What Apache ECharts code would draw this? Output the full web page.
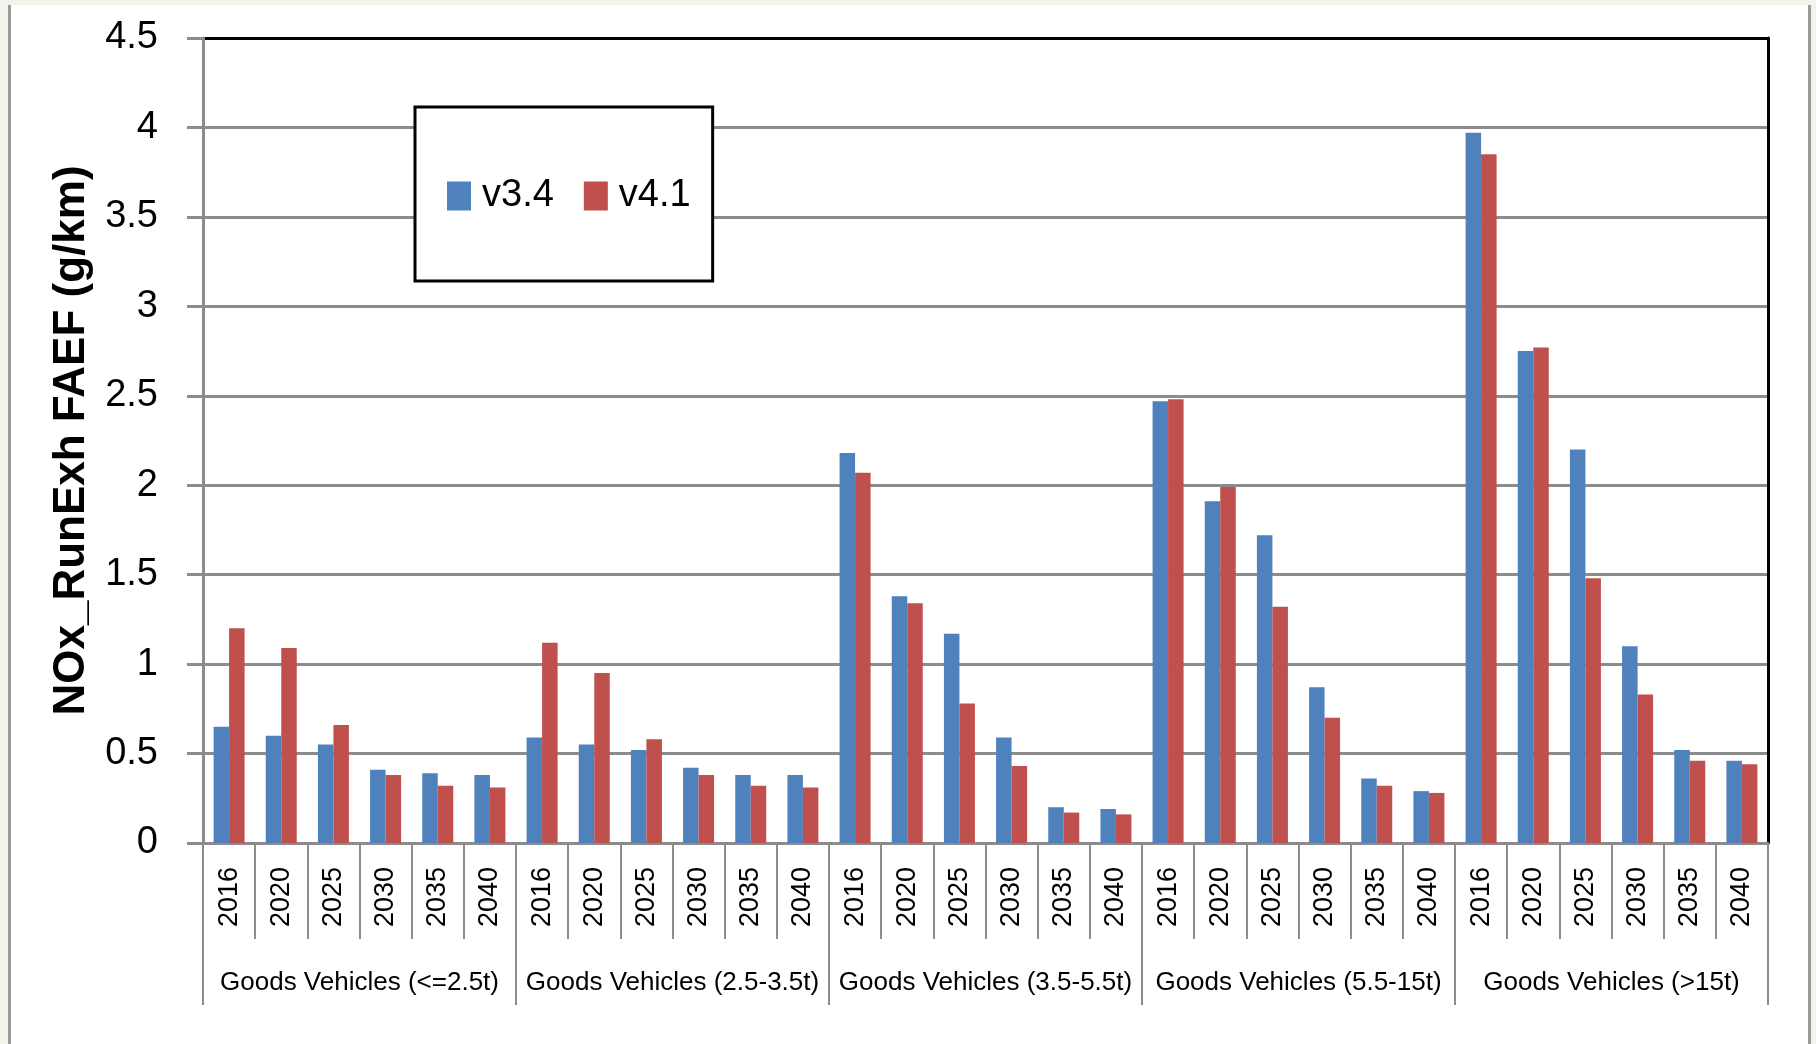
<!DOCTYPE html>
<html>
<head>
<meta charset="utf-8">
<script src="https://cdn.jsdelivr.net/npm/echarts@6/dist/echarts.min.js"></script>
<style>
html,body{margin:0;padding:0;background:#f3f2ec;}
#chart{width:1816px;height:1044px;}
</style>
</head>
<body>
<div id="chart"></div>
<script>
const years = ['2016','2020','2025','2030','2035','2040'];
const groups = ['Goods Vehicles (<=2.5t)','Goods Vehicles (2.5-3.5t)','Goods Vehicles (3.5-5.5t)','Goods Vehicles (5.5-15t)','Goods Vehicles (>15t)'];
const seriesNames = ['v3.4','v4.1'];
const v34 = [0.65,0.60,0.55,0.41,0.39,0.38, 0.59,0.55,0.52,0.42,0.38,0.38, 2.18,1.38,1.17,0.59,0.20,0.19, 2.47,1.91,1.72,0.87,0.36,0.29, 3.97,2.75,2.20,1.10,0.52,0.46];
const v41 = [1.20,1.09,0.66,0.38,0.32,0.31, 1.12,0.95,0.58,0.38,0.32,0.31, 2.07,1.34,0.78,0.43,0.17,0.16, 2.48,1.99,1.32,0.70,0.32,0.28, 3.85,2.77,1.48,0.83,0.46,0.44];
const yTicks = {min:0, max:4.5, interval:0.5};

const categories = [];
groups.forEach(() => years.forEach(y => categories.push(y)));

const gray = '#8c8c8c';
const splitColors = [];
for (let i = 0; i < 9; i++) splitColors.push(gray);
splitColors.push('#000');

const font = "'Liberation Sans', Arial, sans-serif";
const chart = echarts.init(document.getElementById('chart'));
chart.setOption({
  backgroundColor: '#f3f2ec',
  animation: false,
  textStyle: {fontFamily: font, color: '#000'},
  graphic: [
    {type:'rect', z:-10, shape:{x:11, y:5, width:1797, height:1039}, style:{fill:'#fff'}},
    {type:'rect', z:-9, shape:{x:8, y:5, width:3, height:1039}, style:{fill:'#9a9a9a'}},
    {type:'rect', z:-9, shape:{x:1808, y:5, width:3, height:1039}, style:{fill:'#9a9a9a'}}
  ],
  grid: {left:203, right:48, top:38, bottom:201, containLabel:false},
  legend: {
    data: seriesNames,
    left: 415, top: 107,
    orient: 'horizontal',
    icon: 'rect',
    itemWidth: 24, itemHeight: 29, itemGap: 30,
    padding: [70, 22, 66, 32],
    borderColor: '#000', borderWidth: 3,
    backgroundColor: '#fff',
    textStyle: {fontSize: 38, fontFamily: font, color:'#000', padding:[0,0,0,6]}
  },
  xAxis: [
    {
      type: 'category', data: categories, position: 'bottom',
      axisLine: {show:true, lineStyle:{color:gray, width:3}},
      axisTick: {show:true, interval:0, length:96, lineStyle:{color:gray, width:2}},
      axisLabel: {interval:0, rotate:90, margin:24, fontSize:27, color:'#000', fontFamily: font},
      splitLine: {show:false}
    },
    {
      type: 'category', data: groups, position: 'bottom',
      axisLine: {show:false},
      axisTick: {show:true, interval:0, length:162, lineStyle:{color:gray, width:2}},
      axisLabel: {interval:0, margin:127, fontSize:26, color:'#000', fontFamily: font},
      splitLine: {show:false}
    }
  ],
  yAxis: [
    {
      type: 'value', min: yTicks.min, max: yTicks.max, interval: yTicks.interval,
      name: 'NOx_RunExh FAEF (g/km)', nameLocation: 'middle', nameGap: 109,
      nameTextStyle: {fontSize: 44, fontWeight: 'bold', color:'#000', fontFamily: font},
      axisLine: {show:true, lineStyle:{color:gray, width:3}},
      axisTick: {show:true, length:16, lineStyle:{color:gray, width:3}},
      axisLabel: {margin:45, fontSize:38, color:'#000', fontFamily: font},
      splitLine: {show:true, lineStyle:{color:splitColors, width:3}}
    },
    {
      type: 'value', min: yTicks.min, max: yTicks.max, interval: yTicks.interval, position: 'right',
      axisLine: {show:true, lineStyle:{color:'#000', width:3}},
      axisTick: {show:false}, axisLabel: {show:false}, splitLine: {show:false}
    }
  ],
  series: [
    {name: seriesNames[0], type:'bar', data: v34, barWidth: 15.5, barGap: '0%', itemStyle:{color:'#4f81bd'}},
    {name: seriesNames[1], type:'bar', data: v41, barWidth: 15.5, barGap: '0%', itemStyle:{color:'#c0504d'}}
  ]
});
</script>
</body>
</html>
